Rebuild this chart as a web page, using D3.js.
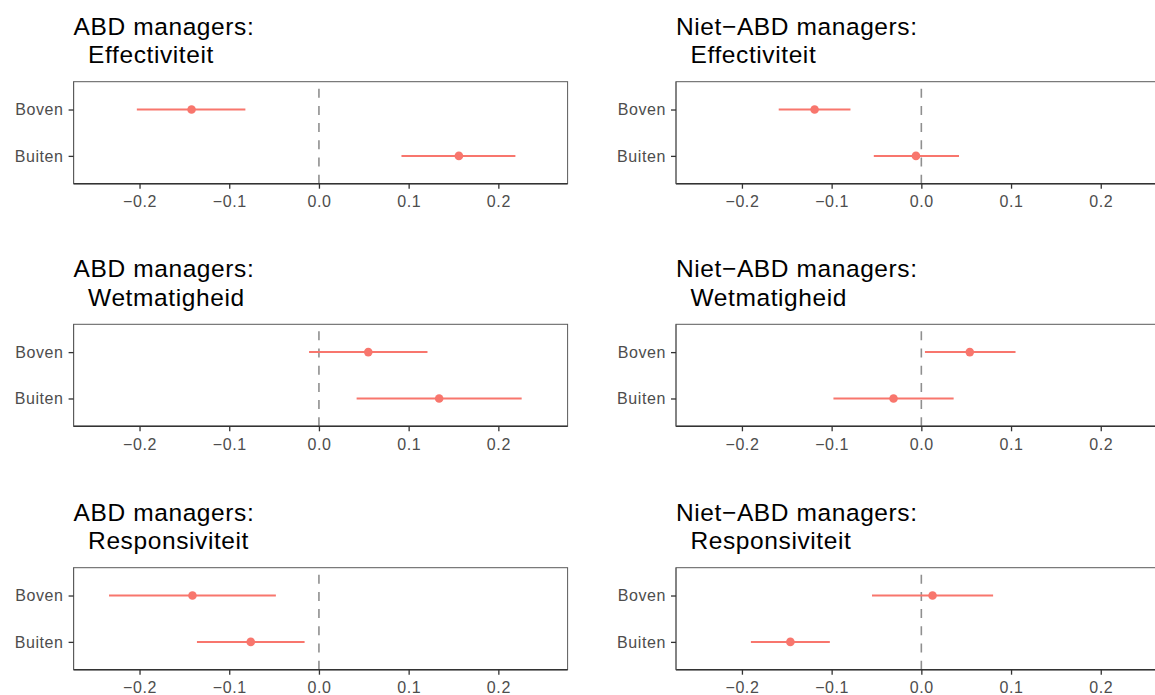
<!DOCTYPE html>
<html>
<head>
<meta charset="utf-8">
<script src="https://cdn.jsdelivr.net/npm/d3@7"></script>
<style>
  body { margin: 0; background: #fff; }
  text { font-family: "Liberation Sans", Arial, sans-serif; }
</style>
</head>
<body>
<svg id="chart" width="1155" height="695"></svg>
<script>
// groups (columns) and outcomes (rows)
const groups = ["ABD managers:", "Niet\u2212ABD managers:"];
const outcomes = ["Effectiviteit", "Wetmatigheid", "Responsiviteit"];
const categories = ["Boven", "Buiten"];
const xTicks = [-0.2, -0.1, 0.0, 0.1, 0.2];

// [outcome][category] estimates with lower / upper bounds
const abdEst   = [[-0.142, 0.156], [0.055, 0.134], [-0.141, -0.076]];
const abdLow   = [[-0.203, 0.092], [-0.011, 0.042], [-0.234, -0.136]];
const abdHigh  = [[-0.082, 0.219], [0.121, 0.226], [-0.048, -0.016]];
const nietEst  = [[-0.119, -0.006], [0.054, -0.031], [0.0125, -0.146]];
const nietLow  = [[-0.159, -0.053], [0.004, -0.098], [-0.055, -0.190]];
const nietHigh = [[-0.079, 0.042], [0.105, 0.036], [0.080, -0.102]];

const estimates = [abdEst, nietEst];
const lowers = [abdLow, nietLow];
const uppers = [abdHigh, nietHigh];

const colLeft = [73.6, 676];
const rowTop = [81.7, 324.3, 567.7];
const panelW = 494, panelH = 102;

const svg = d3.select("#chart");
svg.append("rect").attr("width", 1155).attr("height", 695).attr("fill", "#fff");

const x = d3.scaleLinear().domain([-0.2735, 0.2772]).range([0, panelW]);
const y = d3.scalePoint().domain(categories).range([0, panelH]).padding(0.6);

groups.forEach((grp, gi) => {
  outcomes.forEach((out, oi) => {
    const g = svg.append("g")
      .attr("transform", `translate(${colLeft[gi]}, ${rowTop[oi]})`);

    // title, two lines
    g.append("text").attr("x", 0).attr("y", -47)
      .attr("font-size", 24.5).attr("letter-spacing", 0.6)
      .attr("fill", "#000").text(grp);
    g.append("text").attr("x", 14.5).attr("y", -18.5)
      .attr("font-size", 24.5).attr("letter-spacing", 0.6)
      .attr("fill", "#000").text(out);

    g.append("rect")
      .attr("width", panelW).attr("height", panelH)
      .attr("fill", "none").attr("stroke", "#5a5a5a").attr("stroke-width", 1);

    // dashed zero line, drawn upward from the x axis
    g.append("line")
      .attr("x1", x(0)).attr("x2", x(0))
      .attr("y1", panelH).attr("y2", 0)
      .attr("stroke", "#8f8f8f").attr("stroke-width", 1.6)
      .attr("stroke-dasharray", "9,8.2");

    const rows = categories.map((c, ci) => ({
      cat: c,
      est: estimates[gi][oi][ci],
      lo: lowers[gi][oi][ci],
      hi: uppers[gi][oi][ci]
    }));

    g.selectAll(".ci").data(rows).enter().append("line")
      .attr("x1", d => x(d.lo)).attr("x2", d => x(d.hi))
      .attr("y1", d => y(d.cat)).attr("y2", d => y(d.cat))
      .attr("stroke", "#F8766D").attr("stroke-width", 2);

    g.selectAll(".pt").data(rows).enter().append("circle")
      .attr("cx", d => x(d.est)).attr("cy", d => y(d.cat))
      .attr("r", 4.3).attr("fill", "#F8766D");

    // axes
    const xAxis = g.append("g").attr("transform", `translate(0, ${panelH})`)
      .call(d3.axisBottom(x).tickValues(xTicks).tickSize(5).tickPadding(7)
        .tickFormat(d3.format(".1f")));
    const yAxis = g.append("g")
      .call(d3.axisLeft(y).tickSize(5).tickPadding(5));

    [xAxis, yAxis].forEach(ax => {
      ax.selectAll(".tick line").attr("stroke", "#333").attr("stroke-width", 1.3);
      ax.selectAll(".tick text").attr("font-size", 16).attr("letter-spacing", 0.6)
        .attr("fill", "#4d4d4d")
        .attr("font-family", "Liberation Sans, Arial, sans-serif");
    });
    xAxis.selectAll(".tick text").text(d => d3.format(".1f")(d).replace("-", "\u2212"));
    xAxis.select(".domain").attr("d", `M0,0H${panelW}`)
      .attr("stroke", "#333").attr("stroke-width", 1.6);
    yAxis.select(".domain").attr("d", `M0,0V${panelH}`)
      .attr("stroke", "#5a5a5a").attr("stroke-width", 1);
  });
});
</script>
</body>
</html>
